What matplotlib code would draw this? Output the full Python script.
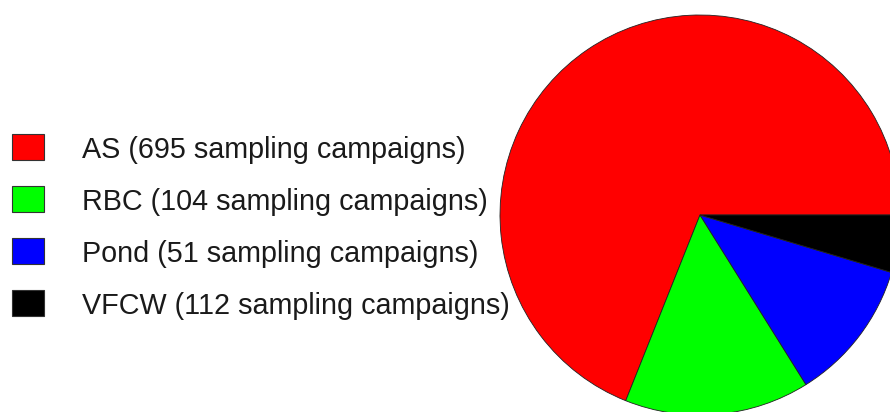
import matplotlib.pyplot as plt
from matplotlib.patches import Rectangle

# Categories and values
labels = ['AS', 'RBC', 'Pond', 'VFCW']
campaigns = [695, 104, 51, 112]
# slice sizes as drawn (degrees of the pie)
slice_sizes = [248.2, 53.8, 41.3, 16.7]
colors = ['#ff0000', '#00ff00', '#0000ff', '#000000']

W, H = 890, 412
fig = plt.figure(figsize=(W / 100, H / 100), dpi=100)
fig.patch.set_facecolor('white')

# Pie: centre at (700, 215) px from top-left, radius ~200 px
cx, cy, r = 700, 215, 200
ax = fig.add_axes([(cx - r) / W, (H - cy - r) / H, 2 * r / W, 2 * r / H])
ax.pie(slice_sizes, colors=colors, startangle=0, counterclock=True,
       radius=1, wedgeprops={'edgecolor': '#222222', 'linewidth': 0.6})
ax.set_xlim(-1, 1)
ax.set_ylim(-1, 1)
ax.set_aspect('equal')
ax.axis('off')

# Legend on the left (box centres in px from top)
row_y = [147, 199, 251, 303]
for lab, n, col, y in zip(labels, campaigns, colors, row_y):
    fig.patches.append(Rectangle((12 / W, (H - y - 13) / H), 31.5 / W, 26 / H,
                                 transform=fig.transFigure, facecolor=col,
                                 edgecolor='#333333', linewidth=0.8))
    fig.text(82 / W, (H - y - 11.5) / H, f'{lab} ({n} sampling campaigns)',
             fontsize=20.7, family='Liberation Sans', color='#1a1a1a',
             ha='left', va='baseline')

fig.savefig('out.png', dpi=100)
